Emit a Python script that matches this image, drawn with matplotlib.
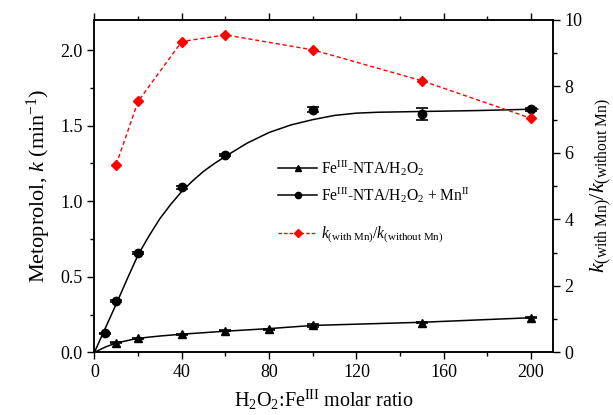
import numpy as np
import matplotlib
matplotlib.use("Agg")
import matplotlib.pyplot as plt
from matplotlib.lines import Line2D
from matplotlib.ticker import MultipleLocator, FormatStrFormatter

plt.rcParams['font.family'] = ['Liberation Serif', 'DejaVu Serif']
plt.rcParams['mathtext.fontset'] = 'custom'
plt.rcParams['mathtext.rm'] = 'Liberation Serif'
plt.rcParams['mathtext.it'] = 'Liberation Serif:italic'
plt.rcParams['font.size'] = 13

# Fe(III)-NTA/H2O2 (triangles)
ratio_fe = [10, 20, 40, 60, 80, 100, 150, 200]
k_fe = [0.065, 0.092, 0.121, 0.142, 0.154, 0.180, 0.196, 0.230]
err_fe = [0.003, 0.003, 0.003, 0.003, 0.003, 0.010, 0.004, 0.004]

# Fe(III)-NTA/H2O2 + Mn(II) (circles)
ratio_mn = [5, 10, 20, 40, 60, 100, 150, 200]
k_mn = [0.125, 0.34, 0.66, 1.093, 1.305, 1.607, 1.58, 1.609]
err_mn = [0.003, 0.006, 0.006, 0.010, 0.008, 0.015, 0.040, 0.010]

# fitted curves
fit_fe_x = [0, 5, 10, 20, 30, 40, 60, 80, 100, 150, 200]
fit_fe_y = [0, 0.035, 0.062, 0.093, 0.108, 0.120, 0.140, 0.157, 0.178, 0.199, 0.229]
fit_mn_x = [0, 5, 10, 15, 20, 25, 30, 35, 40, 45, 50, 55, 60, 70, 80, 90, 100, 110, 120, 130, 150, 175, 203]
fit_mn_y = [0, 0.16, 0.32, 0.485, 0.645, 0.77, 0.885, 0.98, 1.065, 1.135, 1.198, 1.25, 1.297, 1.385, 1.455, 1.505, 1.54, 1.568, 1.583, 1.589, 1.594, 1.600, 1.610]

# k(with Mn)/k(without Mn) (right axis)
ratio_r = [10, 20, 40, 60, 100, 150, 200]
k_ratio = [5.65, 7.55, 9.35, 9.55, 9.10, 8.17, 7.04]

fig = plt.figure(figsize=(6.13, 4.15), dpi=100)
ax = fig.add_axes([0.154, 0.151, 0.748, 0.801])
ax2 = ax.twinx()

ax.plot(fit_fe_x, fit_fe_y, color='black', lw=1.1)
ax.plot(fit_mn_x, fit_mn_y, color='black', lw=1.1)
ax.errorbar(ratio_fe, k_fe, yerr=err_fe, fmt='^', color='black', ms=6,
            capsize=4.5, elinewidth=1, capthick=1.2)
ax.errorbar(ratio_mn, k_mn, yerr=err_mn, fmt='o', color='black', ms=6,
            capsize=4.5, elinewidth=1, capthick=1.2)
ax2.plot(ratio_r, k_ratio, color='red', ls=(0, (3, 2)), lw=1,
         marker='D', ms=5, mfc='red', mec='red')

ax.set_xlim(0, 210)
ax.set_ylim(0, 2.2)
ax2.set_ylim(0, 10)

ax.xaxis.set_major_locator(MultipleLocator(40))
ax.xaxis.set_minor_locator(MultipleLocator(20))
ax.yaxis.set_major_locator(MultipleLocator(0.5))
ax.yaxis.set_minor_locator(MultipleLocator(0.25))
ax.yaxis.set_major_formatter(FormatStrFormatter('%.1f'))
ax2.yaxis.set_major_locator(MultipleLocator(2))
ax2.yaxis.set_minor_locator(MultipleLocator(1))

ax.tick_params(which='both', direction='out', top=True, width=1)
ax.tick_params(which='major', length=5)
ax.tick_params(which='minor', length=3)
ax2.tick_params(which='both', direction='out', width=1)
ax2.tick_params(which='major', length=5)
ax2.tick_params(which='minor', length=3)
for a in (ax, ax2):
    for s in a.spines.values():
        s.set_linewidth(1.1)

ax.set_xlabel('H$_2$O$_2$:Fe$^{\\mathrm{III}}$ molar ratio', fontsize=14.5, labelpad=5)
ax.set_ylabel('Metoprolol, $k$ (min$^{-1}$)', fontsize=16, labelpad=5)
ax2.set_ylabel('$k_{\\mathrm{(with\\ Mn)}}/k_{\\mathrm{(without\\ Mn)}}$', fontsize=16, labelpad=4)

handles1 = [
    Line2D([], [], color='black', lw=1.1, marker='^', ms=4.5),
    Line2D([], [], color='black', lw=1.1, marker='o', ms=4.5),
]
labels1 = [
    'Fe$^{\\mathrm{III}}$-NTA/H$_2$O$_2$',
    'Fe$^{\\mathrm{III}}$-NTA/H$_2$O$_2$ + Mn$^{\\mathrm{II}}$',
]
leg1 = ax2.legend(handles1, labels1, loc='center left', bbox_to_anchor=(0.387, 0.514),
                  borderaxespad=0, frameon=False, fontsize=11.2, handlelength=2.5,
                  handletextpad=0.25, labelspacing=0.45)
ax2.add_artist(leg1)
handles2 = [Line2D([], [], color='red', lw=1, ls=(0, (2.5, 1.5)), marker='D', ms=4.5)]
labels2 = ['$k_{\\mathrm{(with\\ Mn)}}/k_{\\mathrm{(without\\ Mn)}}$']
ax2.legend(handles2, labels2, loc='center left', bbox_to_anchor=(0.387, 0.353),
           borderaxespad=0, frameon=False, fontsize=11.2, handlelength=2.5,
           handletextpad=0.25)

fig.savefig('out.png', dpi=100)
